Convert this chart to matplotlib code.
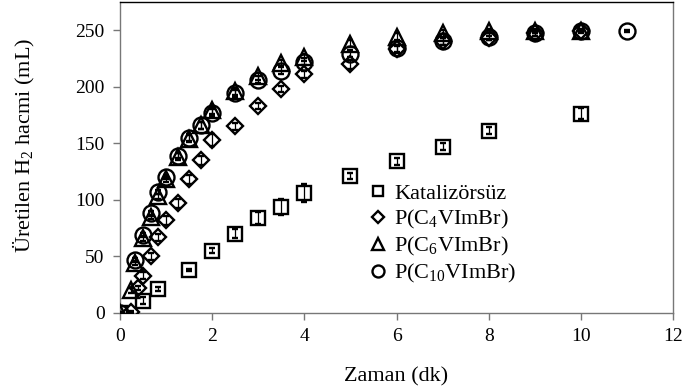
import numpy as np
import matplotlib
matplotlib.use("Agg")
import matplotlib.pyplot as plt

plt.rcParams["font.family"] = ["Liberation Serif", "DejaVu Serif"]
plt.rcParams["mathtext.fontset"] = "custom"
plt.rcParams["mathtext.rm"] = "Liberation Serif"
plt.rcParams["mathtext.it"] = "Liberation Serif:italic"

# === Veriler: zaman (dk) ve üretilen H2 hacmi (mL) ===
t_kat = [0, 0.5, 0.83, 1.5, 2, 2.5, 3, 3.5, 4, 5, 6, 7, 8, 10]
v_kat = [0, 11, 21, 38, 55, 70, 84, 94, 106, 121, 134, 147, 161, 176]
e_kat = [1, 3, 2, 1, 2, 4, 5, 7, 8, 3, 3, 3, 3, 5]

t_c4 = [0.25, 0.4, 0.5, 0.67, 0.83, 1, 1.25, 1.5, 1.75, 2, 2.5, 3, 3.5, 4, 5, 6, 7, 8, 9, 10]
v_c4 = [1, 22, 33, 50, 67, 82, 97, 118, 135, 153, 165, 183, 198, 211, 220, 233, 240, 243, 247, 249]
e_c4 = [1, 2, 3, 3, 3, 4, 4, 4, 4, 5, 3, 3, 3, 3, 4, 3, 3, 2, 2, 1]

t_c6 = [0, 0.25, 0.33, 0.5, 0.67, 0.83, 1, 1.25, 1.5, 1.75, 2, 2.5, 3, 3.5, 4, 5, 6, 7, 8, 9, 10]
v_c6 = [0, 20, 44, 66, 85, 103, 118, 138, 154, 166, 179, 196, 209, 221, 226, 238, 244, 247, 249, 249, 249]
e_c6 = [1, 2, 2, 2, 2, 2, 2, 3, 3, 3, 3, 3, 3, 3, 3, 3, 3, 3, 2, 2, 1]

t_c10 = [0, 0.33, 0.5, 0.67, 0.83, 1, 1.25, 1.5, 1.75, 2, 2.5, 3, 3.5, 4, 5, 6, 7, 8, 9, 10, 11]
v_c10 = [0, 47, 69, 88, 107, 120, 139, 155, 166, 177, 194, 206, 214, 222, 229, 234, 240, 244, 247, 249, 249]
e_c10 = [1, 2, 2, 2, 2, 2, 2, 3, 3, 3, 3, 3, 3, 3, 3, 3, 3, 3, 2, 2, 1]

etiketler = ["Katalizörsüz", "P(C$_4$VImBr)", "P(C$_6$VImBr)", "P(C$_{10}$VImBr)"]

fig = plt.figure(figsize=(6.84, 3.89), dpi=100)
ax = fig.add_axes([0.1754, 0.1954, 0.8086, 0.80])

seriler = [
    (t_kat, v_kat, e_kat, "s", 10),
    (t_c4, v_c4, e_c4, "D", 8),
    (t_c6, v_c6, e_c6, "^", 11.5),
    (t_c10, v_c10, e_c10, "o", 11.5),
]
for (t, v, e, m, ms), lab in zip(seriler, etiketler):
    ax.errorbar(t, v, yerr=e, fmt=m, ms=ms, mfc="none", mec="black", mew=1.7,
                ecolor="black", elinewidth=0.9, capsize=2.5, capthick=0.9,
                label=lab, zorder=3)

ax.set_xlim(0, 12)
ax.set_ylim(0, 275)
ax.set_xticks(np.arange(0, 13, 2))
ax.set_yticks(np.arange(0, 251, 50))
ax.tick_params(direction="out", length=5, width=1, colors="#777777",
               labelcolor="black", labelsize=14, pad=6)
for s in ax.spines.values():
    s.set_color("#777777")
    s.set_linewidth(1.0)
ax.spines["top"].set_color("black")

ax.set_xlabel("Zaman (dk)", fontsize=16, labelpad=16)
ax.set_ylabel("Üretilen H$_2$ hacmi (mL)", fontsize=16)
ax.yaxis.set_label_coords(-0.15, 0.54)

# Lejant: hata çubukları olmadan sadece işaretler
handles, labels = ax.get_legend_handles_labels()
handles = [h[0] for h in handles]
ax.legend(handles, labels, loc="upper left", bbox_to_anchor=(0.433, 0.445),
          frameon=False, fontsize=16, handletextpad=0.25, labelspacing=0.18,
          markerscale=0.75, handlelength=0.9, borderaxespad=0)

fig.savefig("out.png", dpi=100)
